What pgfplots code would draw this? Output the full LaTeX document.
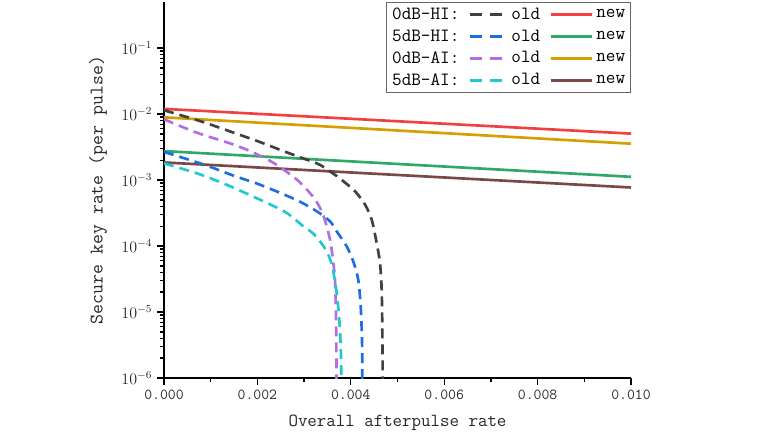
\documentclass[border=0pt]{standalone}
\usepackage{pgfplots}
\pgfplotsset{compat=1.18}
\definecolor{cgray}{RGB}{64,64,64}
\definecolor{cred}{RGB}{240,64,64}
\definecolor{cblue}{RGB}{30,110,225}
\definecolor{cgreen}{RGB}{48,168,104}
\definecolor{cpurple}{RGB}{176,112,224}
\definecolor{cgold}{RGB}{212,160,0}
\definecolor{ccyan}{RGB}{32,200,208}
\definecolor{cbrown}{RGB}{122,72,72}
\pgfplotsset{
  oldleg/.style={line width=2pt, dash pattern=on 9pt off 6pt,
    legend image code/.code={\draw[##1] (0pt,0pt) -- (28pt,0pt);}},
  newleg/.style={line width=2pt,
    legend image code/.code={\draw[##1] (0pt,0pt) -- (31pt,0pt);}},
}
\begin{document}
\begin{tikzpicture}
\begin{axis}[
  scale only axis,
  width=350.25pt, height=282pt,
  xmin=0, xmax=0.01,
  ymode=log, ymin=1e-6, ymax=0.5,
  axis lines*=left,
  axis line style={line width=1pt},
  every tick/.style={line width=1pt, black},
  tick align=outside,
  major tick length=5.25pt, minor tick length=3pt,
  scaled x ticks=false,
  xtick={0,0.002,0.004,0.006,0.008,0.010},
  xticklabels={0.000,0.002,0.004,0.006,0.008,0.010},
  minor x tick num=1,
  ytick={1e-6,1e-5,1e-4,1e-3,1e-2,1e-1},
  yticklabels={$10^{-6}$,$10^{-5}$,$10^{-4}$,$10^{-3}$,$10^{-2}$,$10^{-1}$},
  xticklabel style={font=\fontsize{11.5}{13}\selectfont\ttfamily, text=black!85},
  yticklabel style={font=\fontsize{12}{14}\selectfont, text=black!85},
  xlabel={Overall afterpulse rate},
  ylabel={Secure key rate (per pulse)},
  xlabel style={font=\fontsize{13.8}{16}\selectfont\ttfamily, at={(axis description cs:0.5,-0.1197)}, anchor=center, text=black!85},
  ylabel style={font=\fontsize{14.5}{16}\selectfont\ttfamily, at={(axis description cs:-0.1413,0.5)}, anchor=center, text=black!85},
  legend columns=3,
  legend style={at={(1,1)}, anchor=north east, draw=black!60, line width=0.8pt,
    font=\fontsize{14}{16}\selectfont\ttfamily, inner sep=2pt,
    /tikz/every even column/.append style={column sep=5pt},
    row sep=2.2pt},
  legend cell align=left,
  every axis plot/.append style={line width=2pt},
]
% solid "new" series
\addplot[cred, forget plot] coordinates {(0,1.20e-2) (0.005,7.79e-3) (0.01,5.06e-3)};
\addplot[cgold, forget plot] coordinates {(0,8.93e-3) (0.005,5.64e-3) (0.01,3.56e-3)};
\addplot[cgreen, forget plot] coordinates {(0,2.75e-3) (0.005,1.755e-3) (0.01,1.12e-3)};
\addplot[cbrown, forget plot] coordinates {(0,1.85e-3) (0.005,1.195e-3) (0.01,7.72e-4)};
% dashed "old" series
\addplot[cgray, smooth, tension=0.5, dash pattern=on 7.5pt off 4.5pt, forget plot] coordinates {
(0,1.143e-2) (0.000771,7.85e-3) (0.001413,5.47e-3) (0.002056,3.77e-3) (0.002555,2.75e-3)
(0.002983,2.13e-3) (0.00334,1.70e-3) (0.003698,1.15e-3) (0.003839,9.62e-4) (0.00409,6.78e-4)
(0.004304,4.26e-4) (0.004447,2.52e-4) (0.004554,1.11e-4) (0.004625,5.53e-5) (0.004661,2.17e-5)
(0.004674,6.03e-6) (0.004682,1.49e-6) (0.004686,1e-7)};
\addplot[cblue, smooth, tension=0.5, dash pattern=on 7.5pt off 4.5pt, forget plot] coordinates {
(0,2.67e-3) (0.000841,1.73e-3) (0.001484,1.17e-3) (0.001985,8.88e-4) (0.002484,6.41e-4)
(0.002912,4.70e-4) (0.00327,3.37e-4) (0.003555,2.37e-4) (0.003698,1.67e-4) (0.003912,9.89e-5)
(0.004053,5.85e-5) (0.00416,3.08e-5) (0.004212,1.21e-5) (0.00424,3.78e-6) (0.004246,1.18e-6)
(0.00425,1e-7)};
\addplot[cpurple, smooth, tension=0.5, dash pattern=on 7.5pt off 4.5pt, forget plot] coordinates {
(0,8.34e-3) (0.0007,5.24e-3) (0.001413,3.60e-3) (0.001842,2.75e-3) (0.00234,1.83e-3)
(0.002842,1.02e-3) (0.003197,5.53e-4) (0.003377,3.37e-4) (0.003484,1.99e-4) (0.00357,1.11e-4)
(0.003625,5.53e-5) (0.003662,3.08e-5) (0.003683,8.55e-6) (0.003694,1.49e-6) (0.003698,1e-7)};
\addplot[ccyan, smooth, tension=0.5, dash pattern=on 7.5pt off 4.5pt, forget plot] coordinates {
(0,1.79e-3) (0.000771,1.22e-3) (0.001413,8.07e-4) (0.002126,4.78e-4) (0.002627,3.18e-4)
(0.002983,1.99e-4) (0.003215,1.50e-4) (0.003465,8.81e-5) (0.003600,5.0e-5) (0.003698,1.94e-5)
(0.003754,7.60e-6) (0.003784,2.99e-6) (0.003796,1.05e-6) (0.0038,1e-7)};
% legend
\addlegendimage{empty legend}\addlegendentry{0dB-HI:}
\addlegendimage{cgray, oldleg}\addlegendentry{old}
\addlegendimage{cred, newleg}\addlegendentry{new}
\addlegendimage{empty legend}\addlegendentry{5dB-HI:}
\addlegendimage{cblue, oldleg}\addlegendentry{old}
\addlegendimage{cgreen, newleg}\addlegendentry{new}
\addlegendimage{empty legend}\addlegendentry{0dB-AI:}
\addlegendimage{cpurple, oldleg}\addlegendentry{old}
\addlegendimage{cgold, newleg}\addlegendentry{new}
\addlegendimage{empty legend}\addlegendentry{5dB-AI:}
\addlegendimage{ccyan, oldleg}\addlegendentry{old}
\addlegendimage{cbrown, newleg}\addlegendentry{new}
\end{axis}
\path (current axis.south west) ++(-123pt,-42.75pt) rectangle ++(579pt,326.25pt);
\end{tikzpicture}
\end{document}
